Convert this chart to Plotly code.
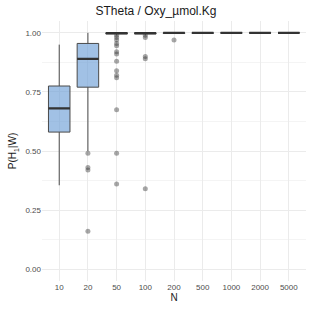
import plotly.graph_objects as go

categories = ["10", "20", "50", "100", "200", "500", "1000", "2000", "5000"]
q1 = [0.58, 0.77, 0.995, 0.995, 0.997, 0.998, 0.999, 0.999, 1.0]
median = [0.68, 0.89, 0.999, 0.999, 1.0, 1.0, 1.0, 1.0, 1.0]
q3 = [0.775, 0.955, 1.0, 1.0, 1.0, 1.0, 1.0, 1.0, 1.0]
lower = [0.355, 0.50, 0.99, 0.99, 0.995, 0.997, 0.999, 0.999, 1.0]
upper = [0.95, 1.0, 1.0, 1.0, 1.0, 1.0, 1.0, 1.0, 1.0]

out_cat = ["20", "20", "20", "20",
           "50", "50", "50", "50", "50", "50", "50", "50", "50", "50", "50", "50", "50", "50",
           "100", "100", "100", "100", "100",
           "200"]
out_val = [0.49, 0.43, 0.42, 0.16,
           0.99, 0.98, 0.97, 0.955, 0.945, 0.92, 0.91, 0.88, 0.84, 0.82, 0.81, 0.675, 0.49, 0.36,
           0.99, 0.98, 0.90, 0.89, 0.34,
           0.97]

fig = go.Figure()
fig.add_trace(go.Box(
    x=categories, q1=q1, median=median, q3=q3,
    lowerfence=lower, upperfence=upper,
    fillcolor="rgba(110,160,215,0.65)",
    line=dict(color="#4a4a4a", width=1),
    width=0.75, whiskerwidth=0, boxpoints=False, showlegend=False,
    hoverinfo="skip",
))
# thick median bars
fig.add_trace(go.Box(
    x=categories, q1=median, median=median, q3=median,
    lowerfence=median, upperfence=median,
    fillcolor="rgba(0,0,0,0)",
    line=dict(color="#333333", width=2.2),
    width=0.75, whiskerwidth=0, boxpoints=False, showlegend=False,
    hoverinfo="skip",
))
fig.add_trace(go.Scatter(
    x=out_cat, y=out_val, mode="markers",
    marker=dict(color="rgba(60,60,60,0.45)", size=5),
    showlegend=False, hoverinfo="skip",
))

fig.update_layout(
    width=312, height=312,
    margin=dict(l=42, r=6, t=21, b=31),
    boxmode="overlay",
    paper_bgcolor="white", plot_bgcolor="white",
    font=dict(family="Liberation Sans, Arial, sans-serif", color="#4d4d4d"),
    title=dict(text="STheta / Oxy_µmol.Kg", x=0.5, xanchor="center",
               yref="container", y=0.965, yanchor="middle",
               font=dict(size=12, color="#1a1a1a")),
)
fig.update_xaxes(
    type="category", categoryorder="array", categoryarray=categories,
    range=[-0.6, 8.6], automargin=False,
    showgrid=True, gridcolor="#ebebeb", gridwidth=1,
    zeroline=False, showline=False, ticks="",
    tickfont=dict(size=8, color="#4d4d4d"),
    title=dict(text="N", font=dict(size=10, color="#1a1a1a"), standoff=2),
)
fig.update_yaxes(
    range=[-0.05, 1.05], automargin=False,
    tickvals=[0, 0.25, 0.5, 0.75, 1.0],
    ticktext=["0.00", "0.25", "0.50", "0.75", "1.00"],
    showgrid=True, gridcolor="#ebebeb", gridwidth=1,
    minor=dict(tickvals=[0.125, 0.375, 0.625, 0.875], showgrid=True, gridcolor="#f4f4f4", gridwidth=0.6),
    zeroline=False, showline=False, ticks="",
    tickfont=dict(size=8, color="#4d4d4d"),
    title=dict(text="P(H<sub>1</sub>|W)", font=dict(size=10, color="#1a1a1a"), standoff=6),
)

fig.write_html("out.html", config={"displayModeBar": False},
               post_script="document.body.style.margin='0';")
